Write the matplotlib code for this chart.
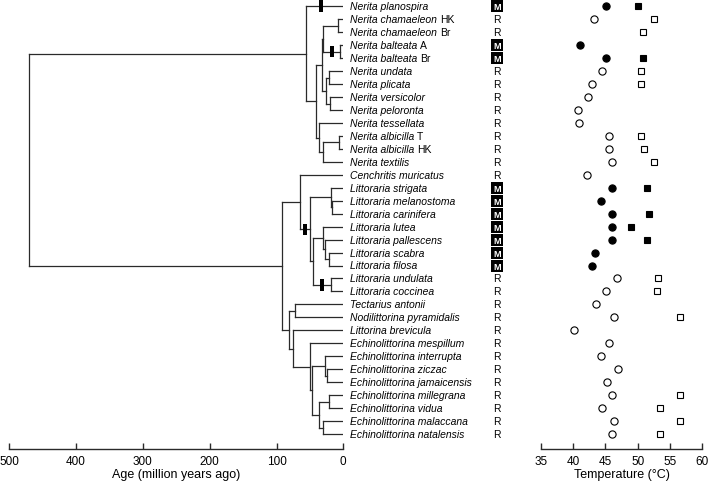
import matplotlib
matplotlib.use('Agg')
import matplotlib.pyplot as plt
import numpy as np
from matplotlib import transforms
from matplotlib.patches import Rectangle

plt.rcParams['font.family'] = ['Liberation Sans', 'DejaVu Sans']

# ---------------- data ----------------
species = ["Nerita planospira", "Nerita chamaeleon", "Nerita chamaeleon", "Nerita balteata",
           "Nerita balteata", "Nerita undata", "Nerita plicata", "Nerita versicolor",
           "Nerita peloronta", "Nerita tessellata", "Nerita albicilla", "Nerita albicilla",
           "Nerita textilis", "Cenchritis muricatus", "Littoraria strigata",
           "Littoraria melanostoma", "Littoraria carinifera", "Littoraria lutea",
           "Littoraria pallescens", "Littoraria scabra", "Littoraria filosa",
           "Littoraria undulata", "Littoraria coccinea", "Tectarius antonii",
           "Nodilittorina pyramidalis", "Littorina brevicula", "Echinolittorina mespillum",
           "Echinolittorina interrupta", "Echinolittorina ziczac", "Echinolittorina jamaicensis",
           "Echinolittorina millegrana", "Echinolittorina vidua", "Echinolittorina malaccana",
           "Echinolittorina natalensis"]
suffix = ["", "HK", "Br", "A", "Br", "", "", "", "", "", "T", "HK", "", "", "", "", "", "",
          "", "", "", "", "", "", "", "", "", "", "", "", "", "", "", ""]
habitat = ["M", "R", "R", "M", "M", "R", "R", "R", "R", "R", "R", "R", "R", "R",
           "M", "M", "M", "M", "M", "M", "M", "R", "R", "R", "R", "R", "R", "R",
           "R", "R", "R", "R", "R", "R"]
nan = np.nan
temp_circle = [45.1, 43.3, nan, 41.1, 45.1, 44.5, 43.0, 42.3, 40.8, 40.9, 45.5, 45.5, 46.0,
               42.2, 46.1, 44.3, 46.0, 46.0, 46.0, 43.4, 42.9, 46.8, 45.1, 43.5, 46.3, 40.1,
               45.6, 44.4, 46.9, 45.3, 46.0, 44.5, 46.3, 46.0]
temp_square = [50.1, 52.5, 50.8, nan, 50.9, 50.5, 50.5, nan, nan, nan, 50.5, 51.0, 52.5,
               nan, 51.5, nan, 51.7, 49.0, 51.4, nan, nan, 53.1, 53.0, nan, 56.5, nan,
               nan, nan, nan, nan, 56.5, 53.4, 56.5, 53.5]

# tree: (node age in Ma, [children]); integers are tip rows
nerita = (56, [0, (41, [(32.4, [(30, [(8, [1, 2]), (5, [3, 4])]),
                                 (26, [(22, [5, 6]), (20, [7, 8])])]),
                        (36, [9, (30, [(6, [10, 11]), 12])])])])
littorinidae = (92, [(65, [13, (50, [(18.4, [14, (16.5, [15, 16])]),
                                     (45, [(30, [17, (27, [18, (21, [19, 20])])]),
                                           (18, [21, 22])])])]),
                     (81, [(72, [23, 24]),
                           (76, [25, (50, [26, (47, [(27, [27, (25, [28, 29])]),
                                                     (36, [(21, [30, 31]), (31, [32, 33])])])])])])])
tree = (470, [nerita, littorinidae])
# black bars: (age, tips of clade whose stem carries the bar)
bars = [(34, [0]), (16.5, [3, 4]), (57, list(range(14, 23))), (32, [21, 22])]

age_ticks = [500, 400, 300, 200, 100, 0]
temp_ticks = [35, 40, 45, 50, 55, 60]

# ---------------- layout ----------------
W, H = 709, 489
fig = plt.figure(figsize=(W / 100, H / 100), dpi=100)
row_px0, row_step, axis_px = 7.3, 12.96, 450.0


def ax_rect(l, r):
    return [l / W, (H - axis_px) / H, (r - l) / W, axis_px / H]


ylim = ((axis_px - row_px0) / row_step, -row_px0 / row_step)
line_col = '#2a2a2a'

ax = fig.add_axes(ax_rect(9.3, 343.3))
ax.set_xlim(500, 0)
ax.set_ylim(*ylim)

node_y = {}


def draw(node):
    if isinstance(node, int):
        node_y[frozenset([node])] = float(node)
        return float(node), 0.0, frozenset([node])
    age, kids = node
    info = [draw(k) for k in kids]
    ys = [i[0] for i in info]
    y = (ys[0] + ys[-1]) / 2
    ax.plot([age, age], [min(ys), max(ys)], color=line_col, lw=0.9,
            solid_capstyle='projecting')
    for cy, cage, _ in info:
        ax.plot([age, cage], [cy, cy], color=line_col, lw=0.9, solid_capstyle='projecting')
    leaves = frozenset().union(*[i[2] for i in info])
    node_y[leaves] = y
    return y, age, leaves


draw(tree)
for age, tips in bars:
    y = node_y[frozenset(tips)]
    ax.add_patch(Rectangle((age + 3, y - 0.45), -6, 0.9, color='black', zorder=5, lw=0))

for s in ['left', 'top', 'right']:
    ax.spines[s].set_visible(False)
ax.spines['bottom'].set_color(line_col)
ax.spines['bottom'].set_linewidth(1.0)
ax.set_yticks([])
ax.set_xticks(age_ticks)
ax.tick_params(axis='x', direction='in', length=4, width=1.0, color=line_col,
               labelsize=8.5, pad=4)
ax.set_xlabel('Age (million years ago)', fontsize=9, labelpad=1)

# species labels
for i, (name, suf) in enumerate(zip(species, suffix)):
    t = ax.text(-10, i, name, style='italic', fontsize=7.5, va='center', ha='left',
                clip_on=False)
    if suf:
        ax.annotate(suf, xy=(1, 0), xycoords=t, xytext=(2.2, 0), textcoords='offset points',
                    va='bottom', ha='left', fontsize=7.5)

# habitat column
trans = transforms.blended_transform_factory(fig.transFigure, ax.transData)
hx = 496.7 / W
for i, h in enumerate(habitat):
    if h == 'M':
        ax.plot([hx], [i], marker='s', ms=8.0, mfc='black', mec='black', transform=trans,
                clip_on=False, mew=0, zorder=4)
        ax.text(hx, i + 0.04, 'M', color='white', fontsize=6.6, ha='center', va='center',
                transform=trans, zorder=6, fontweight='bold')
    else:
        ax.text(hx, i, 'R', color='black', fontsize=7.5, ha='center', va='center',
                transform=trans)

# temperature panel
ax2 = fig.add_axes(ax_rect(540.7, 702.3))
ax2.set_xlim(35, 60)
ax2.set_ylim(*ylim)
rows = np.arange(len(species))
is_m = np.array([h == 'M' for h in habitat])
tc = np.array(temp_circle)
ts = np.array(temp_square)
for mask, face in [(is_m, 'black'), (~is_m, 'white')]:
    ax2.plot(tc[mask], rows[mask], 'o', ms=5.2, mfc=face, mec='black', mew=0.8, ls='none')
    ax2.plot(ts[mask], rows[mask], 's', ms=4.8, mfc=face, mec='black', mew=0.8, ls='none')
for s in ['left', 'top', 'right']:
    ax2.spines[s].set_visible(False)
ax2.spines['bottom'].set_color(line_col)
ax2.spines['bottom'].set_linewidth(1.0)
ax2.set_yticks([])
ax2.set_xticks(temp_ticks)
ax2.tick_params(axis='x', direction='in', length=4, width=1.0, color=line_col,
                labelsize=8.5, pad=4)
ax2.set_xlabel('Temperature (°C)', fontsize=9, labelpad=1)

fig.savefig('out.png', dpi=100)
